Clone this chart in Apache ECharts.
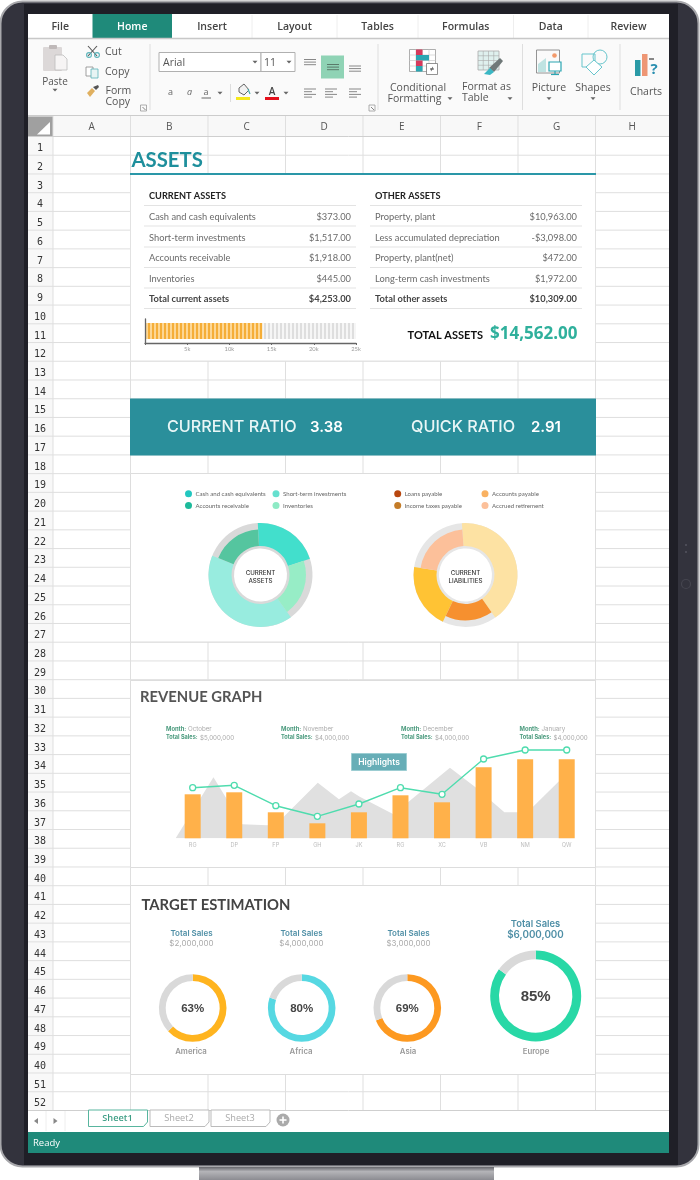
<!DOCTYPE html>
<html><head><meta charset="utf-8">
<style>html,body{margin:0;padding:0;background:#fff}#c{width:700px;height:1180px}</style>
<script src="https://cdn.jsdelivr.net/npm/echarts@6/dist/echarts.min.js"></script>
</head><body><div id="c"></div>
<script>
// ---------- data ----------
const ribbonTabs = ['File','Home','Insert','Layout','Tables','Formulas','Data','Review'];
const columnLetters = ['A','B','C','D','E','F','G','H'];
const rowLabels = ['1','2','3','4','5','6','7','8','9','10','11','12','13','14','15','16','17','18','19','20','21','22','23','24','25','26','27','28','29','30','31','32','33','34','35','36','37','38','39','40','41','42','43','44','45','46','47','48','49','40','51','52'];
const sheetNames = ['Sheet1','Sheet2','Sheet3'];
const currentAssetNames = ['Cash and cash equivalents','Short-term investments','Accounts receivable','Inventories','Total current assets'];
const currentAssetValues = ['$373.00','$1,517.00','$1,918.00','$445.00','$4,253.00'];
const otherAssetNames = ['Property, plant','Less accumulated depreciation','Property, plant(net)','Long-term cash investments','Total other assets'];
const otherAssetValues = ['$10,963.00','-$3,098.00','$472.00','$1,972.00','$10,309.00'];
const totalAssetsBarValue = [13900];
const totalAssetsBarMax = [25000];
const ratioLabels = ['CURRENT RATIO','QUICK RATIO'];
const ratioValues = ['3.38','2.91'];
const assetSliceNames = ['Cash and cash equivalents','Inventories','Short-term investments','Accounts receivable'];
const assetSliceShares = [20.8,20.1,41,18.1];
const assetSliceLong = [true,false,true,false];
const assetSliceColors = ['#42dfcc','#97edc6','#98ecdf','#55c59f'];
const liabilitySliceNames = ['Accounts payable','Income taxes payable','Loans payable','Accrued retirement'];
const liabilitySliceShares = [41.4,16.9,20.3,21.4];
const liabilitySliceLong = [true,false,true,false];
const liabilitySliceColors = ['#fde2a3','#f6902f','#ffc334','#fcc09a'];
const assetLegendNames = ['Cash and cash equivalents','Short-term investments','Accounts receivable','Inventories'];
const assetLegendColors = ['#22c7c0','#66e0cf','#1dba9b','#8eeac5'];
const liabilityLegendNames = ['Loans payable','Accounts payable','Income taxes payable','Accrued retirement'];
const liabilityLegendColors = ['#b8470f','#f9b161','#c47c28','#fcc09a'];
const revenueCategories = ['RG','DP','FP','GH','JK','RG','XC','VB','NM','QW'];
const revenueBars = [44,46,26,15,26,43,36,71,79,79];
const revenueLine = [50.6,53,32.6,22,34.3,50.6,44,79.3,88.3,88.3];
const backdropX = [0.09,1,1.69,2.3,2.69,3.51,4.02,4.31,4.52,5.33,6.69,7.29,8,8.33,8.69,9.3,9.6,9.6];
const backdropY = [0,61,14,13,21.6,55.6,39,47,41.6,24,70.6,51.6,26,26,31.6,56.6,66,0];
const noteMonths = ['October','November','December','January'];
const noteSales = ['$5,000,000','$4,000,000','$4,000,000','$4,000,000'];
const targetRegions = ['America','Africa','Asia','Europe'];
const targetPercents = [63,80,69,85];
const targetSales = ['$2,000,000','$4,000,000','$3,000,000','$6,000,000'];
const targetColors = ['#ffb41f','#56d8e2','#fd9920','#28d8a6'];

// ---------- layout ----------
const UI='"Open Sans",sans-serif', LA='Lato,sans-serif', IN='Inter,sans-serif', LS='"Liberation Sans",sans-serif';
const g=[];
function T(text,x,y,o){o=o||{};g.push({type:'text',silent:true,z:o.z||5,style:{text:text,x:x,y:y+0.8,fill:o.c||'#555',font:(o.w||'normal')+' '+(o.s||10)+'px '+(o.f||UI),textAlign:o.a||'left',textVerticalAlign:'middle'}});}
function R(x,y,w,h,fill,stroke,r,lw,z){g.push({type:'rect',silent:true,z:z||1,shape:{x:x,y:y,width:w,height:h,r:r||0},style:{fill:fill||'none',stroke:stroke||'none',lineWidth:lw||1}});}
function L(x1,y1,x2,y2,c,w,z){g.push({type:'line',silent:true,z:z||1,shape:{x1:x1,y1:y1,x2:x2,y2:y2},style:{stroke:c||'#ddd',lineWidth:w||1}});}
function C(x,y,r,fill,stroke,lw,z){g.push({type:'circle',silent:true,z:z||4,shape:{cx:x,cy:y,r:r},style:{fill:fill||'none',stroke:stroke||'none',lineWidth:lw||1}});}
function P(pts,fill,stroke,lw,z){g.push({type:'polygon',silent:true,z:z||4,shape:{points:pts},style:{fill:fill||'none',stroke:stroke||'none',lineWidth:lw||1}});}
function arrow(x,y,c){P([[x-2.5,y-1.2],[x+2.5,y-1.2],[x,y+1.6]],c||'#666');}
function lines(x,y,ws,gap,c){ws.forEach((w,i)=>L(x,y+i*gap,x+w,y+i*gap,c||'#888',1,4));}

// device
R(0.5,1.5,698,1165,'#33333d','#a8a8ac',22,2);
R(24,4,654,1161,'#1f1f27');
R(199,1167,295,13,{type:'linear',x:0,y:0,x2:0,y2:1,colorStops:[{offset:0,color:'#66666c'},{offset:.35,color:'#b4b4b8'},{offset:1,color:'#8c8c92'}]});
C(686,584,4.5,'none','#45454f',1.2,2); C(686,545,1,'#55555f',null,1,2); C(686,552,1,'#55555f',null,1,2);
R(28,14,641,1139,'#ffffff');

// tabs
const tabEdges=[28,92.5,172,252,337,418,513.5,588,669];
ribbonTabs.forEach((t,i)=>{
  const a=tabEdges[i],b=tabEdges[i+1];
  if(i==1)R(a,14,b-a,24.5,'#1f8a7a');
  else if(i>2)L(a,15,a,38,'#eeeeee');
  T(t,(a+b)/2,26,{s:10.5,w:'600',c:i==1?'#fff':'#444',a:'center'});
});
R(28,38.5,641,77,'#fafafa'); L(28,38.5,669,38.5,'#c8c8c8',1.4); L(28,115.8,669,115.8,'#bdbdbd',1.2);
[150,378,522.5,620].forEach(x=>L(x,44,x,110,'#dedede'));
// ribbon – clipboard
R(43,47,19,24,'#dcd8d8',null,1,1,3); R(49,45,8,4,'#bfb9b9',null,1,1,3); P([[55,55],[63,55],[67,59],[67,70],[55,70]],'#f6f4f4','#bdbdbd',.8);
T('Paste',55,81,{a:'center',s:10}); arrow(55,90);
// cut / copy / brush
L(88,46,97,56,'#555',1.1,4); L(97,46,88,56,'#555',1.1,4); C(89,55,2.4,'none','#5ab3b9',1.1); C(97,55,2.4,'none','#5ab3b9',1.1);
T('Cut',105,51,{s:10.5}); 
R(86,67,7,9,'#fff','#888',0,.8,4); R(91,69,7,9,'#e8f4f4','#5ab3b9',0,.8,4); T('Copy',105,71,{s:10.5});
P([[87,93],[92,88],[95,91],[90,97]],'#e0b060'); P([[93,87],[98,85],[99,87],[96,90]],'#555');
T('Form',105.5,90,{s:10.5}); T('Copy',105.5,101,{s:10.5});
function launcher(x,y){R(x,y,6,6,'none','#999',0,.8,4);L(x+2,y+2,x+5,y+5,'#666',.8,4);}
launcher(140.5,105); launcher(369,105);
// font boxes
R(159,52.5,102,19,'#fff','#b0b0b0',0,1,3); R(261,52.5,34,19,'#fff','#b0b0b0',0,1,3);
T('Arial',163,62.5,{s:10.5}); T('11',264,62.5,{s:10.5}); arrow(255,62); arrow(289,62);
T('a',168,92,{s:9,c:'#666'}); T('a',187,92,{s:9,c:'#666',w:'italic'}); T('a',203.5,92,{s:9,c:'#666'}); L(201.5,98,211,98,'#666',1,4); arrow(220,93);
L(230.5,84,230.5,102,'#ddd',1,4);
P([[239,88],[244,84],[249,90],[244,95],[239,92]],'#f2f2f2','#555',.9); L(248,89,250,94,'#4aa',1.2,4); R(236,97,14,3,'#f5e81c',null,0,1,4); arrow(257,93);
T('A',272,91,{s:10,c:'#444',a:'center',w:'600'}); R(265,97,14,3,'#e5101c',null,0,1,4); arrow(286,93);
// align
lines(304,59.5,[12,12,12],2.6,'#888');
R(321,55.5,23,23,'#8fd3b5',null,0,1,3); lines(327,64.5,[12,12,12],2.6,'#5a7a6a');
lines(349,66,[12,12,12],2.6,'#888');
lines(304,89,[12,8,12,8],2.7); lines(325,89,[12,8,12,8],2.7); lines(349,89,[12,8,12,8],2.7);
// conditional formatting
(function(){const x=409.5,y=49.5,cw=6.5,ch=5.5;
  R(x,y,26,22,'#fff','#999',0,.8,3);
  for(let i=1;i<4;i++)L(x+i*cw,y,x+i*cw,y+22,'#ccc',.7,3);
  for(let j=1;j<4;j++)L(x,y+j*ch,x+26,y+j*ch,'#ccc',.7,3);
  R(x+6.5,y,6.5,5.5,'#d63a5c',null,0,1,4); R(x+6.5,y+5.5,13,5.5,'#2ba6b2',null,0,1,4); R(x+6.5,y+11,6.5,5.5,'#d63a5c',null,0,1,4); R(x+6.5,y+16.5,6.5,5.5,'#2ba6b2',null,0,1,4);
  R(x+17,y+14,11,11,'#fff','#777',0,.8,4); T('≠',x+22.5,y+19,{s:8,a:'center',c:'#333',z:6});
})();
T('Conditional',418,87,{s:10.5,a:'center'}); T('Formatting',387.5,98,{s:10.5}); arrow(450,98.5);
// format table
(function(){const x=478,y=51;R(x,y,21,19,'#dff0ee','#aaa',0,.8,3);for(let i=1;i<4;i++)L(x+i*5.25,y,x+i*5.25,y+19,'#aaa',.6,3);for(let j=1;j<4;j++)L(x,y+j*4.75,x+21,y+j*4.75,'#aaa',.6,3);
  P([[489,68],[500,58],[503,61],[494,72]],'#6f7878'); P([[484,74],[490,68],[494,72],[490,75]],'#3bb7c4');})();
T('Format as',462,86,{s:10.5}); T('Table',462,97,{s:10.5}); arrow(510,98.5);
// picture / shapes / charts
R(536.5,50,23,23,'#fafafa','#888',0,.9,3); P([[538,72],[538,64],[546,58],[546,72]],'#bfe3e2'); C(554.5,55.5,2.3,'#f39a6b');
R(549,62,12,9,'#fff','#2ba6b2',0,1.2,4); L(555,71,555,74,'#2ba6b2',1.2,4); L(551,74.5,559,74.5,'#2ba6b2',1.2,4);
T('Picture',549,87,{s:10.5,a:'center'}); arrow(549,98.5);
R(582,54,13,13,'none','#67c5cc',0,1,4); C(600,57,7,'none','#67c5cc',1,4); P([[594,60],[602,67],[594,75],[586,67]],'#fff','#67c5cc',1,5);
T('Shapes',593,87,{s:10.5,a:'center'}); arrow(593,98.5);
R(635,60,5.5,16,'#2a9aa6',null,0,1,4); R(642,54,5.5,22,'#ee9674',null,0,1,4); L(649,59,654,59,'#555',1.4,4); T('?',654,69,{s:15,w:'700',c:'#2a8fb0',a:'center',z:6});
T('Charts',646,91,{s:10.5,a:'center'});

// sheet header + grid
const colEdges=[53,130.5,208,285.5,363,440.5,518,595.5,669];
const rowTop=136.5,rowH=18.73;
R(28,116,641,20.5,'#f8f8f8'); R(28,136.5,25,974,'#f8f8f8');
R(28,116.5,25,20,'#a0a0a0'); P([[37,134.5],[50,134.5],[50,122]],'#fff',null,1,3);
columnLetters.forEach((t,i)=>{T(t,(colEdges[i]+colEdges[i+1])/2,126,{s:10,a:'center',c:'#555'});});
colEdges.forEach((x,i)=>{if(i<8)L(x,116,x,1110,'#dfdfdf');});
rowLabels.forEach((t,i)=>{
  const y=rowTop+rowH*(i+1);
  T(t,40,y-rowH/2+2,{s:10,a:'center',c:'#333',f:'"DejaVu Sans Mono",monospace'});
  if(i<51)L(28,y,669,y,'#dfdfdf');
});
L(28,136.5,669,136.5,'#cfcfcf');
// cards
const tc='#2a97a8';
T('ASSETS',131.5,159.7,{s:20.3,w:'700',c:'#1e8f9c',f:LA});
R(130.5,174,465,187,'#fff','#e2e2e2'); L(130,174,596,174,tc,2.2,2);
R(130,398.5,466,57,'#2a8f9b',null,0,1,2);
R(130.5,473.5,465,168.5,'#fff','#dddddd');
R(130.5,680.5,465,187,'#fff','#dddddd');
R(130.5,885.5,465,189,'#fff','#dddddd');

// asset tables
const rowY=[216,237,257,278,298], ruleY=[205.5,226,247,267.5,288,308.5];
function table(x0,head,names,vals){
  T(head,x0+5,195,{s:9.2,w:'700',c:'#222',f:LA});
  ruleY.forEach(y=>L(x0,y,x0+212,y,'#e3e3e3',1,2));
  names.forEach((n,i)=>{const b=i==4;
    T(n,x0+5,rowY[i],{s:9.3,w:b?'700':'normal',c:b?'#444':'#6a6a6a',f:LA});
    T(vals[i],x0+207,rowY[i],{s:9.3,w:b?'700':'normal',c:b?'#444':'#6a6a6a',f:LA,a:'right'});
  });
}
table(144,'CURRENT ASSETS',currentAssetNames,currentAssetValues);
table(370,'OTHER ASSETS',otherAssetNames,otherAssetValues);
T('TOTAL ASSETS',483,335,{s:11,w:'700',c:'#111',f:LA,a:'right'});
T('$14,562.00',577.5,333,{s:17,w:'700',c:'#2fb09c',a:'right',f:UI});

// ratio banner
T(ratioLabels[0],167,426.5,{s:16.2,w:'500',c:'#e9f6f6',f:IN}); T(ratioValues[0],310,426.5,{s:15,w:'600',c:'#fff',f:IN});
T(ratioLabels[1],411,426.5,{s:16.2,w:'500',c:'#e9f6f6',f:IN}); T(ratioValues[1],531,426.5,{s:15,w:'600',c:'#fff',f:IN});

// pie legends
function legend(names,cols,x1,x2){
  names.forEach((n,i)=>{const x=i%2?x2:x1,y=i<2?493.7:505.5;
    C(x,y,3.5,cols[i]); T(n,x+7,y-.6,{s:6.1,c:'#666',f:LA});});
}
legend(assetLegendNames,assetLegendColors,188.5,276);
legend(liabilityLegendNames,liabilityLegendColors,397.7,485);
T('CURRENT',260.5,572,{s:6.2,w:'500',a:'center',c:'#333',f:IN}); T('ASSETS',260.5,580,{s:6.2,w:'500',a:'center',c:'#333',f:IN});
T('CURRENT',465.5,572,{s:6.2,w:'500',a:'center',c:'#333',f:IN}); T('LIABILITIES',465.5,580,{s:6.2,w:'500',a:'center',c:'#333',f:IN});

// revenue text
T('REVENUE GRAPH',140,696.5,{s:14.8,w:'700',c:'#555',f:LA});
[166,281,401,519.5].forEach((x,i)=>{
  T('Month:',x,728.5,{s:5.8,w:'700',c:'#4a9a7d',f:IN}); T(noteMonths[i],x+22,728.5,{s:6.2,c:'#aaa',f:IN});
  T('Total Sales:',x,737,{s:5.6,w:'700',c:'#4a9a7d',f:IN}); T(noteSales[i],x+34,737,{s:6.2,c:'#aaa',f:IN});
});
R(351.5,753.5,55,17,'#67aeb7','#9ccdd2',0,1,4); T('Highlights',379,761.5,{s:8.5,w:'600',c:'#fff',f:IN,a:'center',z:6});

// target text
T('TARGET ESTIMATION',141.5,904.5,{s:14.8,w:'700',c:'#444',f:LA});
const ringX=[192.7,301.7,407.3,535.7], ringY=[1008,1008,1008,996], ringR=[33.8,33.8,33.8,45.5], ringT=[6.8,6.8,6.8,8.8];
const targetNameX=[191,301,408,536];
targetRegions.forEach((n,i)=>{
  const big=i==3;
  T('Total Sales',targetNameX[i]+(big?-0.5:0.5),big?923:932.5,{s:big?9.4:8,w:'600',c:'#4f8fa6',f:IN,a:'center'});
  T(targetSales[i],targetNameX[i]+(big?-0.5:0.5),big?934.5:942.5,{s:big?9.8:8,w:big?'600':'normal',c:big?'#4f8fa6':'#aaa',f:IN,a:'center'});
  T(n,targetNameX[i],1050.7,{s:7.8,w:'600',c:'#999',f:IN,a:'center'});
});

// sheet tabs + status
R(28,1110,641,22,'#fff'); L(28,1110.5,669,1110.5,'#cfcfcf'); L(46,1111,46,1131,'#eee'); L(65,1111,65,1131,'#eee');
P([[38,1118],[38,1124],[34,1121]],'#888'); P([[53.5,1118],[53.5,1124],[57.5,1121]],'#888');
[88.5,150,211].forEach((x,i)=>{
  const c=i==0?'#58b59e':'#bbb';
  P([[x,1110],[x,1126.5],[x+55,1126.5],[x+59,1122],[x+59,1110]],'#fff',c,1,3);
  T(sheetNames[i],x+29,1118,{s:9.2,w:i==0?'600':'normal',c:i==0?'#3f9f86':'#aaa',a:'center'});
});
C(283,1120,6.5,'#aaa'); L(279.5,1120,286.5,1120,'#fff',1.6,5); L(283,1116.5,283,1123.5,'#fff',1.6,5);
R(28,1132,641,21,'#1f8a7a'); T('Ready',33,1142,{s:9.5,c:'#fff'});

// ---------- series ----------
const series=[];
function layered(names,shares,longFlags,colors,cx,gray){
  const cy=575;
  series.push({type:'pie',silent:true,startAngle:cx<300?93:94,center:[cx,cy],radius:[26.5,52],label:{show:false},labelLine:{show:false},data:[{value:1,name:'ring',itemStyle:{color:gray}}]});
  const mk=(wantLong)=>names.map((n,i)=>({name:n,value:shares[i],itemStyle:{color:longFlags[i]===wantLong?colors[i]:'transparent'}}));
  const base={type:'pie',silent:true,startAngle:cx<300?93:94,center:[cx,cy],label:{show:false},labelLine:{show:false},itemStyle:{borderWidth:0}};
  series.push(Object.assign({},base,{radius:[29,52],data:mk(true)}));
  series.push(Object.assign({},base,{radius:[29,45.5],data:mk(false)}));
}
layered(assetSliceNames,assetSliceShares,assetSliceLong,assetSliceColors,260.5,'#d9d9d9');
layered(liabilitySliceNames,liabilitySliceShares,liabilitySliceLong,liabilitySliceColors,465.5,'#e6e6e6');
targetRegions.forEach((n,i)=>{
  series.push({type:'pie',silent:true,startAngle:90,center:[ringX[i],ringY[i]],radius:[ringR[i]-ringT[i],ringR[i]],labelLine:{show:false},
    data:[{value:targetPercents[i],name:n,itemStyle:{color:targetColors[i]},label:{show:true,position:'center',offset:[0,1],formatter:'{c}%',fontFamily:LS,fontWeight:'bold',fontSize:i==3?15:11.5,color:'#444'}},
          {value:100-targetPercents[i],name:'rest',itemStyle:{color:'#d9d9d9'},label:{show:false}}]});
});
// mini stripe bar
series.push({type:'bar',xAxisIndex:0,yAxisIndex:0,silent:true,barWidth:16,barGap:'-100%',z:3,data:totalAssetsBarMax,
  itemStyle:{color:'#f6f6f6',decal:{symbol:'rect',symbolSize:1,dashArrayX:[1.5,1.5],dashArrayY:[4,0],rotation:0,color:'#dedede'}}});
series.push({type:'bar',xAxisIndex:0,yAxisIndex:0,silent:true,barWidth:16,barGap:'-100%',z:4,data:totalAssetsBarValue,
  itemStyle:{color:'#fdd795',decal:{symbol:'rect',symbolSize:1,dashArrayX:[1.5,1.5],dashArrayY:[4,0],rotation:0,color:'#f5ae38'}}});
// revenue
series.push({type:'line',xAxisIndex:2,yAxisIndex:1,silent:true,symbol:'none',lineStyle:{width:0},areaStyle:{color:'#e0e0e0',opacity:1},z:2,
  data:backdropX.map((x,i)=>[x,backdropY[i]])});
series.push({type:'bar',xAxisIndex:1,yAxisIndex:1,silent:true,barWidth:16,z:3,itemStyle:{color:'#ffb14a'},data:revenueBars});
series.push({type:'line',xAxisIndex:1,yAxisIndex:1,silent:true,z:4,symbol:'circle',symbolSize:6,showAllSymbols:true,
  itemStyle:{color:'#fff',borderColor:'#4fdcae',borderWidth:1.3},lineStyle:{color:'#4fdcae',width:1.4},data:revenueLine});

const option={
  animation:false,
  backgroundColor:'#ffffff',
  graphic:{elements:g},
  grid:[{left:145,top:319,width:211,height:24},{left:171.9,top:738.3,width:415.6,height:100}],
  xAxis:[
    {type:'value',gridIndex:0,z:8,min:0,max:25000,interval:5000,splitLine:{show:false},
      axisLine:{show:true,onZero:false,lineStyle:{color:'#666',width:1.3}},axisTick:{show:true,length:2,lineStyle:{color:'#666'}},
      axisLabel:{fontSize:5.8,color:'#999',margin:3,fontFamily:LA,formatter:v=>v?(v/1000)+'k':''}},
    {type:'category',gridIndex:1,z:8,data:revenueCategories,axisLine:{show:false},axisTick:{show:false},
      axisLabel:{fontSize:5.6,color:'#bbb',margin:4,fontFamily:IN,interval:0}},
    {type:'value',gridIndex:1,min:0,max:10,show:false,splitLine:{show:false}}
  ],
  yAxis:[
    {type:'category',gridIndex:0,z:8,data:['Total assets'],axisLabel:{show:false},axisTick:{show:false},axisLine:{show:true,lineStyle:{color:'#666',width:1.3}}},
    {type:'value',gridIndex:1,min:0,max:100,show:false,splitLine:{show:false}}
  ],
  series:series
};
const chart=echarts.init(document.getElementById('c'),null,{width:700,height:1180});
chart.setOption(option);
</script></body></html>
